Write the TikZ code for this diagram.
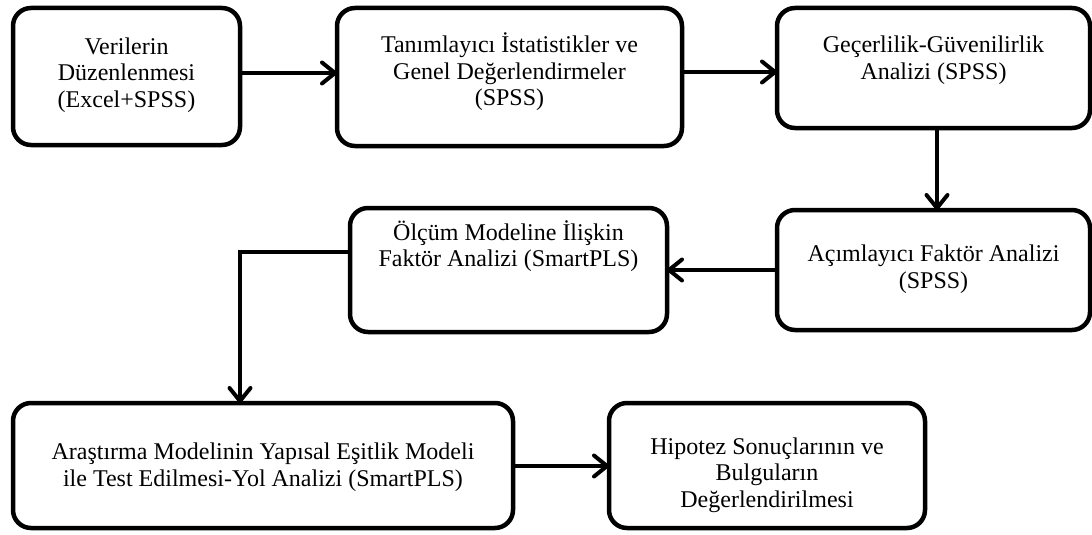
\documentclass[tikz,border=0pt]{standalone}
\usepackage{fontspec}
\setmainfont{Liberation Serif}
\usetikzlibrary{arrows.meta,calc}
\begin{document}
\begin{tikzpicture}[x=1pt,y=-1pt,
  stepbox/.style={draw=black, line width=4.5pt, rounded corners=18pt,
    inner sep=0pt, outer sep=0pt},
  lbl/.style={align=center, inner sep=0pt,
    font=\fontsize{24}{26.5}\selectfont},
  conn/.style={line width=4pt,
    -{Straight Barb[length=13pt,width=21pt,round]}}]
\useasboundingbox (0,0) rectangle (1092,535);

% process boxes
\node[stepbox, minimum width=227pt, minimum height=137pt] (b1) at (126.5,76.5) {};
\node[stepbox, minimum width=345pt, minimum height=138pt] (b2) at (509.5,77) {};
\node[stepbox, minimum width=313pt, minimum height=120pt] (b3) at (933.5,68) {};
\node[stepbox, minimum width=313pt, minimum height=120pt] (b4) at (933.5,270) {};
\node[stepbox, minimum width=317pt, minimum height=124pt] (b5) at (508.5,270) {};
\node[stepbox, minimum width=500pt, minimum height=125pt] (b6) at (263,465.5) {};
\node[stepbox, minimum width=316pt, minimum height=125pt] (b7) at (767,465.5) {};

% box texts
\node[lbl] (t1) at (126.5,75) {Verilerin\\Düzenlenmesi\\(Excel+SPSS)};
\node[lbl] (t2) at (509.5,72) {Tanımlayıcı İstatistikler ve\\Genel Değerlendirmeler\\(SPSS)};
\node[lbl] (t3) at (933.5,60) {Geçerlilik-Güvenilirlik\\Analizi (SPSS)};
\node[lbl] (t4) at (933.5,269) {Açımlayıcı Faktör Analizi\\(SPSS)};
\node[lbl] (t5) at (508.5,246) {Ölçüm Modeline İlişkin\\Faktör Analizi (SmartPLS)};
\node[lbl] (t6) at (263,467) {Araştırma Modelinin Yapısal Eşitlik Modeli\\ile Test Edilmesi-Yol Analizi (SmartPLS)};
\node[lbl] (t7) at (767,475) {Hipotez Sonuçlarının ve\\Bulguların\\Değerlendirilmesi};

% connectors
\coordinate (bend) at (240,252);
\draw[conn] (b1.east |- 0,73) -- (b2.west |- 0,73);
\draw[conn] (b2.east |- 0,72) -- (b3.west |- 0,72);
\draw[conn] (b3.south -| 937,0) -- (b4.north -| 937,0);
\draw[conn] (b4.west |- 0,270) -- (b5.east |- 0,270);
\draw[conn] (b5.west |- bend) -- (bend) -- (b6.north -| bend);
\draw[conn] (b6.east |- 0,466) -- (b7.west |- 0,466);
\end{tikzpicture}
\end{document}
